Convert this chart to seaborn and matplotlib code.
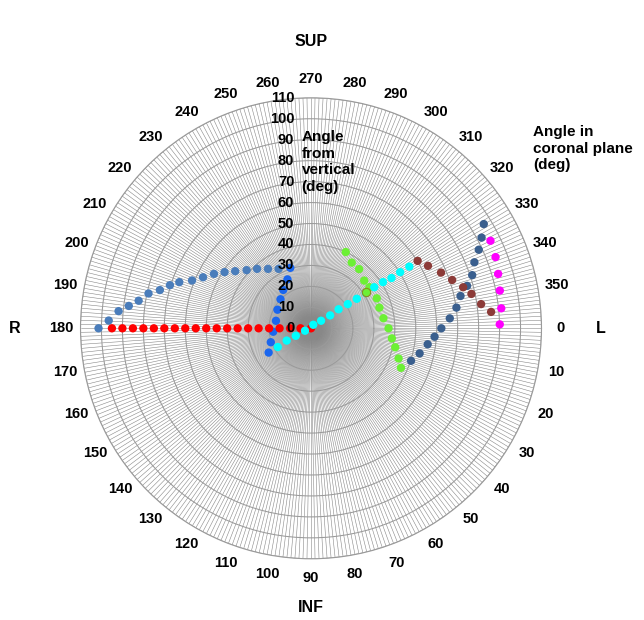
import numpy as np
import pandas as pd
import matplotlib
matplotlib.use("Agg")
import matplotlib.pyplot as plt
import matplotlib.transforms as mtransforms
import seaborn as sns

sns.set_style("white")
plt.rcParams['font.family'] = ['Liberation Sans', 'DejaVu Sans']
plt.rcParams['text.color'] = 'black'
plt.rcParams['xtick.color'] = 'black'
plt.rcParams['ytick.color'] = 'black'

# ---- data: angle in coronal plane (deg), angle from vertical (deg) ----
red_theta = [180] * 20
red_r = [0, 5, 10, 15, 20, 25, 30, 35, 40, 45, 50, 55, 60, 65, 70, 75, 80, 85, 90, 95]

steel_theta = [180, 182.2, 185.1, 187.0, 189.1, 192.1, 194.2, 197.0, 199.3, 201.9,
               205.3, 209.3, 213.0, 217.0, 222.1, 227.8, 234.1, 241.4]
steel_r = [101.4, 96.6, 92.2, 87.6, 83.3, 79.3, 74.4, 70.4, 66.6, 61.2,
           57.0, 53.1, 49.2, 45.3, 41.4, 38.3, 35.0, 32.3]

blue_theta = [251.1, 244.3, 234.1, 223.6, 209.0, 192.1, 174.8, 160.9, 150.2]
blue_r = [30.5, 25.9, 22.6, 20.1, 18.3, 17.1, 18.1, 20.3, 23.3]

green_theta = [294.5, 301.8, 309.1, 318.1, 324.9, 335.5, 343.2, 352.1, 0.0, 7.1, 12.7, 19.0, 23.7]
green_r = [40.0, 36.9, 36.4, 34.1, 34.1, 34.5, 34.1, 34.9, 37.0, 38.9, 41.2, 44.2, 46.9]

cyan_theta = [150.6, 153.2, 153.7, 158.2, 302.6, 323.1, 326.0, 325.4, 326.7, 327.2,
              327.2, 327.0, 327.3, 328.0, 327.8, 327.9]
cyan_r = [18.2, 13.0, 8.1, 3.1, 2.0, 6.0, 11.0, 16.0, 21.0, 26.0,
          31.1, 36.0, 40.8, 45.3, 50.3, 55.4]

dark_theta = [18.0, 13.0, 7.8, 3.9, 0.0, 355.9, 351.9, 347.8, 344.8, 341.75,
              338.0, 334.9, 332.0, 328.9]
dark_r = [50.2, 53.2, 56.2, 59.1, 62.2, 66.4, 70.1, 73.0, 77.2, 81.0,
          84.1, 88.4, 92.2, 96.3]

brown_theta = [327.7, 331.9, 336.8, 341.1, 344.9, 347.9, 351.9, 354.8]
brown_r = [60.2, 63.3, 67.5, 71.2, 75.2, 78.3, 82.0, 86.3]

magenta_theta = [334.0, 338.9, 343.8, 348.7, 354.0, 358.8]
magenta_r = [95.3, 94.4, 93.0, 91.9, 91.3, 90.1]

highlight_theta = [326.6]
highlight_r = [31.3]

series = [
    ("steel", steel_theta, steel_r, "#4a7dbb"),
    ("blue", blue_theta, blue_r, "#1a66ee"),
    ("red", red_theta, red_r, "#ff0000"),
    ("green", green_theta, green_r, "#6cf035"),
    ("cyan", cyan_theta, cyan_r, "#00ffff"),
    ("dark", dark_theta, dark_r, "#3a5f8e"),
    ("brown", brown_theta, brown_r, "#8c3b38"),
    ("magenta", magenta_theta, magenta_r, "#ff00ff"),
]

theta_ticks = list(range(0, 360, 10))
theta_labels = [str(t) for t in theta_ticks]
r_ticks = list(range(0, 111, 10))
r_labels = [str(r) for r in r_ticks]

frames = []
for name, th, rr, col in series:
    frames.append(pd.DataFrame({"theta": np.deg2rad(th), "r": rr, "series": name}))
df = pd.concat(frames, ignore_index=True)

W, H = 644, 620
fig = plt.figure(figsize=(W / 100, H / 100), dpi=100)
cx, cy, R = 311, 328.3, 230.5
ax = fig.add_axes([(cx - R) / W, (H - cy - R) / H, 2 * R / W, 2 * R / H], projection='polar')
ax.set_theta_zero_location('E')
ax.set_theta_direction(-1)
ax.set_ylim(0, 110)

# grid
ax.set_xticks(np.deg2rad(theta_ticks))
ax.set_xticklabels(theta_labels, fontsize=10.5, fontweight='bold', color='black')
ax.set_xticks(np.deg2rad(np.arange(0, 360, 1)), minor=True)
ax.set_yticks(r_ticks)
ax.set_yticklabels([])
ax.tick_params(axis='x', which='both', length=0, pad=6.5)
ax.grid(True, which='major', axis='x', color='#888888', linewidth=0.4)
ax.grid(True, which='minor', axis='x', color='#888888', linewidth=0.4)
ax.grid(True, which='major', axis='y', color='#9a9a9a', linewidth=0.75)
ax.spines['polar'].set_color('#9a9a9a')
ax.spines['polar'].set_linewidth(0.8)
ax.set_axisbelow(True)

for name, th, rr, col in series:
    sub = df[df["series"] == name]
    sns.scatterplot(data=sub, x="theta", y="r", color=col, s=36, edgecolor='none',
                    ax=ax, legend=False, zorder=3)
sns.scatterplot(x=np.deg2rad(highlight_theta), y=highlight_r, color="#6cf035", s=36,
                edgecolor="#8a8a20", linewidth=0.8, ax=ax, legend=False, zorder=4)
ax.set_xlabel("")
ax.set_ylabel("")

# radial labels along the 270 direction
off = mtransforms.ScaledTranslation(-12 / 72, 0, fig.dpi_scale_trans)
for r, lab in zip(r_ticks, r_labels):
    ax.text(np.deg2rad(270), r, lab, ha='right', va='center', fontsize=10.5,
            fontweight='bold', transform=ax.transData + off, zorder=10)

fig.text(301.5 / W, 1 - 130 / H, "Angle\nfrom\nvertical\n(deg)", ha='left', va='top',
         fontsize=11, fontweight='bold', linespacing=1.25)
fig.text(533 / W, 1 - 125 / H, "Angle in\ncoronal plane\n(deg)", ha='left', va='top',
         fontsize=11, fontweight='bold', linespacing=1.25)
fig.text(cx / W, 1 - 42 / H, "SUP", ha='center', va='center', fontsize=11.5, fontweight='bold')
fig.text(cx / W, 1 - 608 / H, "INF", ha='center', va='center', fontsize=11.5, fontweight='bold')
fig.text(15 / W, 1 - cy / H, "R", ha='center', va='center', fontsize=11.5, fontweight='bold')
fig.text(601 / W, 1 - cy / H, "L", ha='center', va='center', fontsize=11.5, fontweight='bold')

fig.savefig("out.png", dpi=100)
